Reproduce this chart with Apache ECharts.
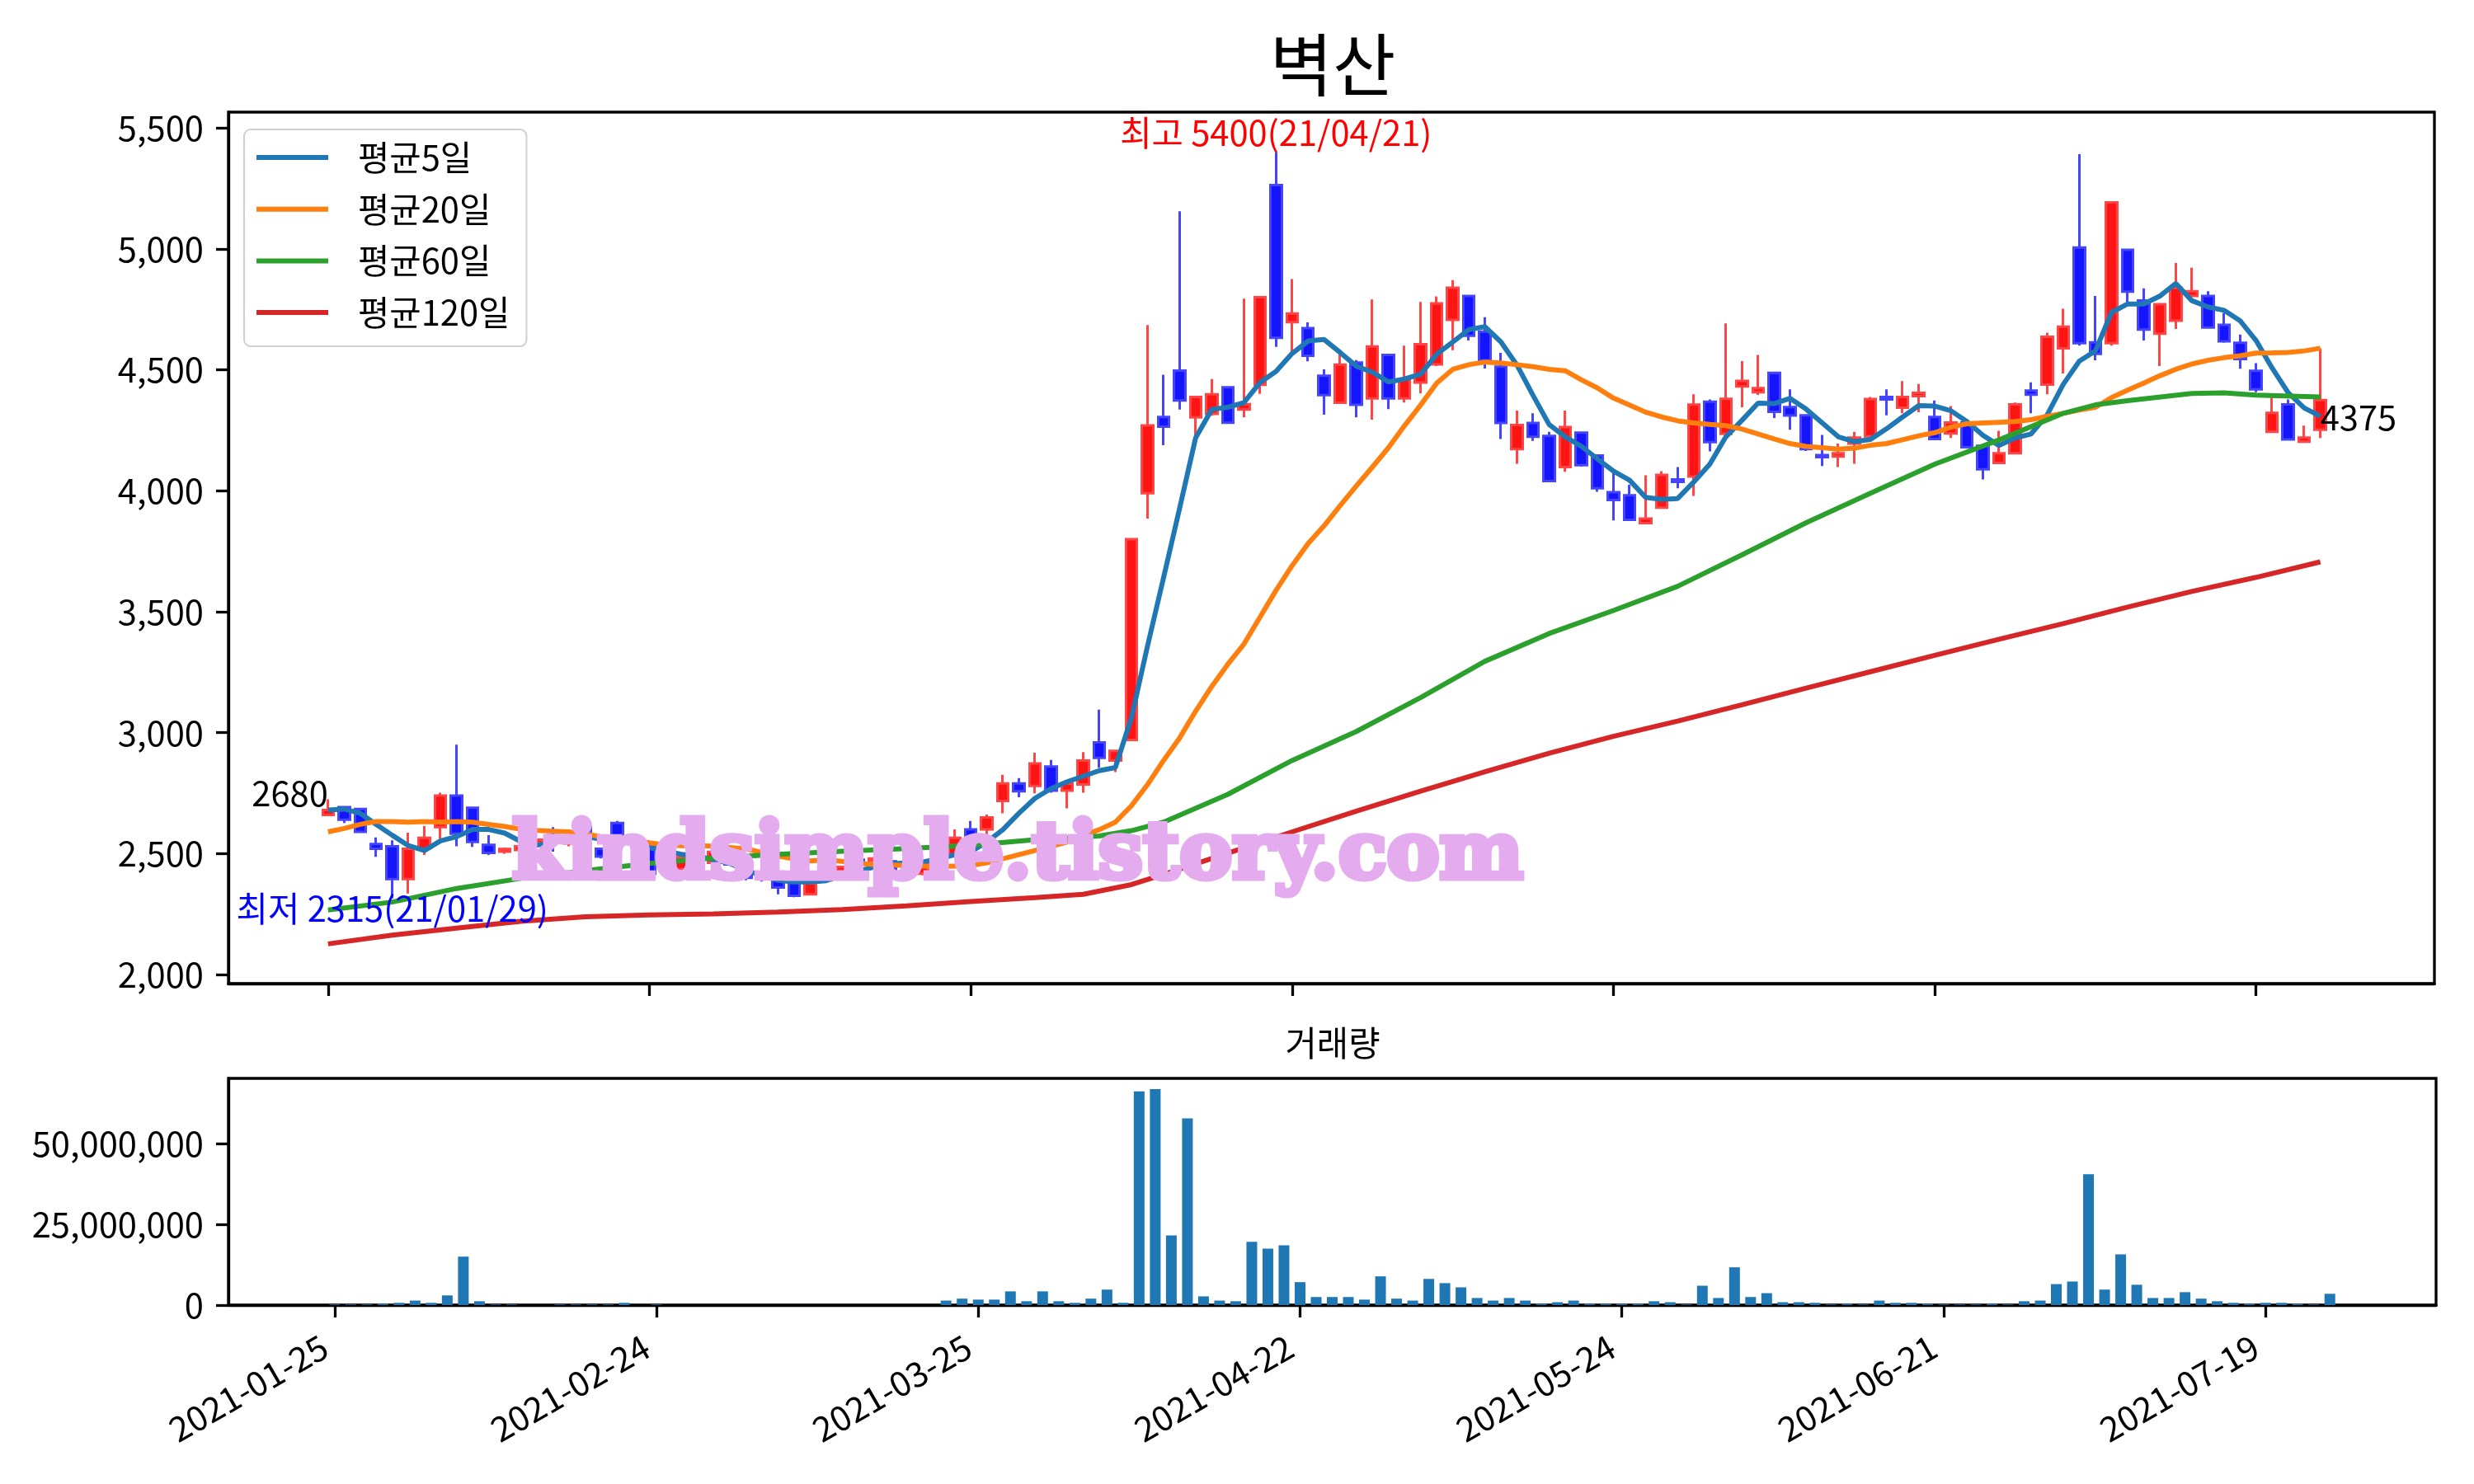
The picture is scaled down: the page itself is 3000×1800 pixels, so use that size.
<!DOCTYPE html>
<html><head><meta charset="utf-8">
<script src="https://cdn.jsdelivr.net/npm/echarts@6/dist/echarts.min.js"></script>
<style>html,body{margin:0;padding:0;background:#fff}#c{width:3000px;height:1800px}</style>
</head><body><div id="c"></div>
<script>
// ---- data (index 0 = 2021-01-25, one entry per trading day) ----
const opens = [
2660,2692,2685,2540,2530,2395,2521,2610,2740,2690,
2536,2508,2515,2545,2576,2542,2610,2520,2627,2560,
2536,2470,2437,2519,2462,2470,2434,2420,2400,2383,
2332,2390,2430,2475,2470,2468,2400,2417,2460,2497,
2600,2600,2718,2790,2780,2860,2760,2786,2960,2885,
2970,3990,4305,4497,4303,4318,4428,4336,4438,5263,
4697,4672,4475,4364,4530,4382,4561,4382,4447,4522,
4706,4805,4658,4513,4172,4280,4227,4098,4240,4146,
3994,3981,3866,3930,4047,4059,4368,4235,4431,4407,
4487,4346,4312,4147,4141,4195,4225,4388,4343,4391,
4305,4237,4282,4186,4115,4155,4414,4439,4589,5005,
4613,4610,4996,4786,4649,4703,4805,4805,4686,4612,
4496,4244,4357,4203,4252];
const closes = [
2680,2640,2590,2520,2395,2520,2565,2740,2582,2548,
2503,2519,2530,2558,2553,2570,2576,2488,2570,2540,
2417,2480,2485,2496,2507,2455,2400,2395,2360,2326,
2377,2420,2445,2462,2480,2434,2428,2457,2470,2565,
2555,2650,2790,2758,2873,2760,2790,2885,2896,2925,
3800,4270,4265,4373,4388,4399,4281,4358,4800,4632,
4733,4558,4395,4521,4355,4596,4382,4462,4606,4774,
4839,4641,4539,4280,4272,4223,4040,4263,4106,4010,
3962,3880,3885,4066,4037,4356,4201,4380,4454,4424,
4326,4311,4172,4139,4155,4220,4379,4377,4388,4405,
4214,4282,4180,4089,4155,4357,4397,4636,4678,4610,
4566,5192,4823,4666,4771,4839,4825,4675,4618,4544,
4419,4322,4212,4220,4375];
const lows = [
2655,2627,2585,2487,2315,2335,2495,2562,2530,2528,
2495,2500,2505,2540,2508,2530,2530,2480,2560,2530,
2410,2465,2430,2490,2455,2450,2390,2385,2332,2320,
2330,2385,2425,2455,2465,2430,2395,2410,2455,2490,
2545,2578,2667,2733,2749,2752,2687,2752,2855,2837,
2965,3885,4188,4336,4225,4310,4278,4303,4400,4595,
4567,4535,4314,4360,4303,4294,4337,4365,4403,4515,
4581,4621,4505,4214,4112,4206,4036,4078,4100,3996,
3877,3878,3865,3925,4010,3979,4163,4230,4345,4396,
4301,4252,4164,4102,4098,4112,4220,4312,4320,4325,
4210,4218,4175,4047,4112,4150,4320,4399,4485,4600,
4539,4600,4780,4621,4515,4669,4800,4670,4612,4504,
4407,4240,4210,4200,4218];
const highs = [
2725,2695,2690,2567,2555,2587,2615,2752,2950,2695,
2576,2525,2535,2562,2610,2580,2615,2525,2635,2565,
2540,2490,2490,2525,2510,2475,2440,2425,2422,2390,
2380,2425,2450,2480,2485,2475,2432,2460,2475,2600,
2635,2662,2826,2812,2917,2887,2795,2920,3095,2930,
3800,4685,4480,5155,4390,4462,4430,4794,4802,5400,
4875,4696,4502,4580,4540,4791,4565,4600,4780,4803,
4871,4808,4717,4570,4331,4320,4244,4331,4245,4150,
4087,4025,4064,4081,4098,4399,4377,4692,4536,4561,
4490,4419,4315,4231,4195,4244,4388,4419,4453,4441,
4373,4350,4285,4190,4248,4365,4448,4653,4752,5391,
4805,5195,5000,4837,4775,4941,4922,4825,4735,4646,
4527,4388,4377,4269,4589];
const volumes = [
200000,200000,200000,400000,700000,1400000,700000,3000000,15000000,1200000,
200000,200000,0,0,200000,200000,200000,200000,700000,0,
200000,0,0,0,0,0,0,0,0,0,
0,0,0,0,0,0,0,0,1400000,2000000,
1700000,1700000,4250000,1200000,4250000,1200000,700000,2000000,4800000,700000,
66200000,66900000,21600000,57800000,2700000,1400000,1200000,19600000,17500000,18500000,
7100000,2500000,2500000,2500000,1700000,8900000,2000000,1400000,8100000,6800000,
5500000,2200000,1400000,2200000,1400000,400000,900000,1400000,400000,400000,
400000,400000,1200000,900000,200000,6000000,2200000,11700000,2500000,3700000,
900000,900000,700000,200000,400000,200000,1400000,700000,700000,400000,
200000,200000,200000,400000,200000,1200000,1400000,6500000,7300000,40500000,
4800000,15700000,6300000,2200000,2200000,4000000,2000000,1200000,700000,400000,
700000,700000,400000,200000,3500000];
const ma5 = [
2680,2684,2667,2621,2576,2533,2513,2553,2570,2600,
2600,2585,2550,2535,2545,2560,2570,2560,2555,2545,
2525,2510,2497,2490,2475,2460,2432,2408,2390,2383,
2383,2388,2411,2428,2445,2457,2462,2465,2479,2495,
2508,2548,2599,2667,2729,2769,2797,2820,2843,2856,
3061,3357,3640,3927,4219,4336,4345,4364,4447,4493,
4567,4619,4625,4571,4515,4490,4450,4462,4482,4564,
4615,4666,4678,4615,4519,4394,4274,4223,4184,4132,
4081,4044,3973,3964,3968,4036,4110,4223,4291,4362,
4360,4382,4337,4280,4223,4203,4212,4256,4305,4352,
4350,4331,4286,4229,4187,4218,4235,4314,4440,4536,
4578,4737,4772,4772,4804,4857,4786,4760,4746,4703,
4621,4507,4405,4342,4308];
const ma20 = [
2590,2604,2621,2633,2633,2630,2633,2630,2633,2630,
2621,2612,2601,2596,2593,2590,2582,2570,2562,2555,
2545,2536,2533,2534,2530,2525,2520,2505,2490,2478,
2470,2474,2468,2460,2455,2453,2451,2449,2446,2449,
2451,2462,2479,2496,2513,2530,2548,2576,2599,2630,
2698,2785,2885,2978,3089,3191,3283,3366,3477,3588,
3690,3782,3856,3939,4020,4098,4178,4269,4354,4445,
4502,4521,4532,4528,4521,4513,4502,4496,4459,4425,
4383,4354,4325,4305,4289,4280,4274,4269,4255,4235,
4214,4195,4183,4178,4172,4176,4188,4195,4211,4227,
4240,4263,4277,4280,4283,4286,4294,4308,4320,4334,
4345,4385,4416,4445,4475,4502,4524,4539,4550,4558,
4569,4570,4572,4578,4589];
// [trading-day index, value] read at sample points
const ma60Pts = [[0,2267],[4,2300],[8,2356],[12,2398],[16,2430],[20,2460],[24,2482],[28,2497],[32,2510],[36,2521],[40,2535],[44,2558],[48,2573],[50,2595],[52,2630],[56,2745],[60,2885],[64,3005],[68,3145],[72,3295],[76,3410],[80,3505],[84,3605],[88,3735],[92,3868],[96,3990],[100,4110],[104,4210],[108,4320],[110,4355],[112,4372],[116,4402],[118,4405],[120,4395],[124,4388]];
const ma120Pts = [[0,2127],[4,2163],[8,2192],[12,2220],[16,2239],[20,2247],[24,2251],[28,2259],[32,2269],[36,2284],[40,2302],[44,2318],[47,2332],[50,2372],[52,2414],[56,2502],[60,2590],[64,2676],[68,2758],[72,2838],[76,2915],[80,2985],[84,3048],[88,3115],[92,3184],[96,3252],[100,3320],[104,3386],[108,3451],[112,3519],[116,3584],[120,3642],[124,3706]];
const tickIndex = [0,20,40,60,80,100,120];
const tickLabels = ['2021-01-25','2021-02-24','2021-03-25','2021-04-22','2021-05-24','2021-06-21','2021-07-19'];
const priceTicks = [2000,2500,3000,3500,4000,4500,5000,5500];
const volTicks = [0,25000000,50000000];
const seriesNames = ['평균5일','평균20일','평균60일','평균120일'];
const highMark = {idx:59, value:5400, date:'21/04/21'};
const lowMark = {idx:4, value:2315, date:'21/01/29'};
const firstMark = {idx:0, value:2680};
const lastMark = {idx:124, value:4375};

// ---- chart ----
const FONT = '"Noto Sans CJK KR", "Noto Sans", sans-serif';
const FS = 41.7;
const fmt = v => Number(v).toLocaleString('en-US');
const candles = opens.map((o,i)=>[i,o,closes[i],lows[i],highs[i]]);
const chart = echarts.init(document.getElementById('c'), null, {renderer:'canvas'});
const tickStyle = {show:true, length:15, lineStyle:{color:'#000', width:3.3}};
const axisLineStyle = {show:true, onZero:false, lineStyle:{color:'#000', width:3.3}};
const lbl = {fontSize:FS, color:'#000', fontFamily:FONT};

chart.setOption({
  animation:false,
  backgroundColor:'#fff',
  title:[
    {text:'벽산', left:1616, top:30, textAlign:'center', padding:0,
     textStyle:{fontSize:83, fontWeight:'normal', color:'#000', fontFamily:FONT, lineHeight:96}},
    {text:'거래량', left:1616, top:1240, textAlign:'center', padding:0,
     textStyle:{fontSize:FS, fontWeight:'normal', color:'#000', fontFamily:FONT, lineHeight:50}}
  ],
  legend:{
    data:seriesNames, orient:'vertical', left:296, top:157,
    icon:'rect', itemWidth:87, itemHeight:6, itemGap:12.7,
    padding:[9,20,16,15],
    backgroundColor:'rgba(255,255,255,0.8)', borderColor:'#d0d0d0', borderWidth:2, borderRadius:8,
    textStyle:{fontSize:FS, color:'#000', fontFamily:FONT, lineHeight:50, padding:[0,0,0,31]}
  },
  grid:[
    {left:277, top:136, width:2675, height:1057, show:true, borderColor:'#000', borderWidth:3.3, containLabel:false},
    {left:277, top:1308, width:2677, height:275, show:true, borderColor:'#000', borderWidth:3.3, containLabel:false}
  ],
  xAxis:[
    {type:'value', gridIndex:0, min:-6.2, max:131.1, axisLine:axisLineStyle,
     axisTick:Object.assign({customValues:tickIndex}, tickStyle),
     axisLabel:{show:false}, splitLine:{show:false}},
    {type:'value', gridIndex:1, min:-6.6, max:130.6, axisLine:axisLineStyle,
     axisTick:Object.assign({customValues:tickIndex}, tickStyle),
     axisLabel:Object.assign({customValues:tickIndex, rotate:30, margin:40, padding:[0,14,0,0],
       formatter:v=>tickLabels[tickIndex.indexOf(Math.round(v))] || ''}, lbl),
     splitLine:{show:false}}
  ],
  yAxis:[
    {type:'value', gridIndex:0, min:1963, max:5565, axisLine:axisLineStyle,
     axisTick:Object.assign({customValues:priceTicks}, tickStyle),
     axisLabel:Object.assign({customValues:priceTicks, margin:30, formatter:fmt}, lbl),
     splitLine:{show:false}},
    {type:'value', gridIndex:1, min:0, max:70200000, axisLine:axisLineStyle,
     axisTick:Object.assign({customValues:volTicks}, tickStyle),
     axisLabel:Object.assign({customValues:volTicks, margin:30, formatter:fmt}, lbl),
     splitLine:{show:false}}
  ],
  series:[
    {type:'candlestick', name:'candle', xAxisIndex:0, yAxisIndex:0, data:candles,
     encode:{x:0, y:[1,2,3,4]}, barWidth:14,
     itemStyle:{color:'#ff1414', color0:'#1414ff', borderColor:'#ff4545', borderColor0:'#4545ff', borderWidth:3},
     markPoint:{symbol:'circle', symbolSize:0, silent:true,
       label:{fontSize:FS, fontFamily:FONT},
       data:[
        {coord:[highMark.idx, highMark.value], label:{formatter:'최고 '+highMark.value+'('+highMark.date+')', position:'top', distance:2, color:'#ff0000', fontSize:FS, fontFamily:FONT}},
        {coord:[lowMark.idx, lowMark.value], label:{formatter:'최저 '+lowMark.value+'('+lowMark.date+')', position:'bottom', distance:-8, color:'#0000ff', fontSize:FS, fontFamily:FONT}},
        {coord:[firstMark.idx, firstMark.value], label:{formatter:String(firstMark.value), position:[0,0], align:'right', verticalAlign:'bottom', color:'#000', fontSize:FS, fontFamily:FONT}},
        {coord:[lastMark.idx, lastMark.value], label:{formatter:String(lastMark.value), position:[0,0], align:'left', verticalAlign:'top', color:'#000', fontSize:FS, fontFamily:FONT}}
       ]}
    },
    {type:'line', name:seriesNames[0], data:ma5.map((v,i)=>[i,v]), showSymbol:false, color:'#1f77b4', lineStyle:{width:6, color:'#1f77b4'}},
    {type:'line', name:seriesNames[1], data:ma20.map((v,i)=>[i,v]), showSymbol:false, color:'#ff7f0e', lineStyle:{width:6, color:'#ff7f0e'}},
    {type:'line', name:seriesNames[2], data:ma60Pts, showSymbol:false, color:'#2ca02c', lineStyle:{width:6, color:'#2ca02c'}},
    {type:'line', name:seriesNames[3], data:ma120Pts, showSymbol:false, color:'#d62728', lineStyle:{width:6, color:'#d62728'}},
    {type:'bar', name:'volume', xAxisIndex:1, yAxisIndex:1, data:volumes.map((v,i)=>[i,v]), barWidth:13, itemStyle:{color:'#1f77b4'}}
  ],
  graphic:[
    {type:'text', x:1234, y:1040, z:100, silent:true,
     style:{text:'kindsimple.tistory.com', align:'center', verticalAlign:'middle',
       fontSize:96, fontWeight:'bold', fontFamily:'"DejaVu Serif", serif',
       fill:'rgb(228,172,238)', stroke:'rgb(228,172,238)', lineWidth:7}}
  ]
});
</script></body></html>
